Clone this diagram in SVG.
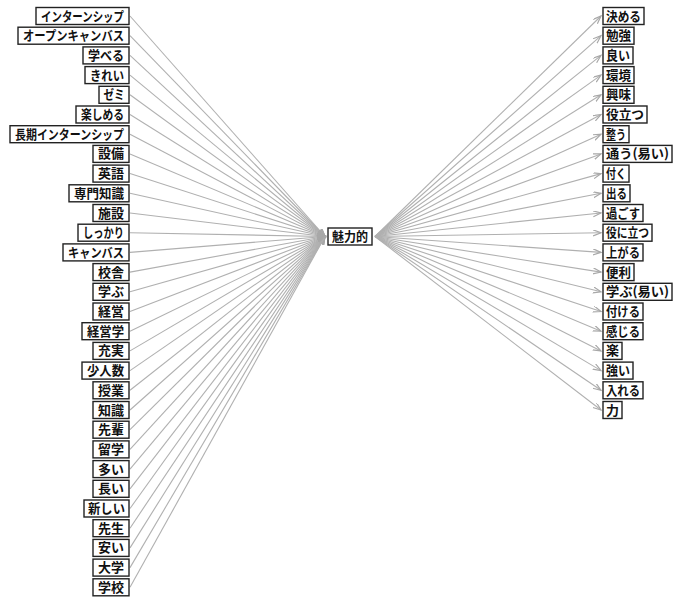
<svg xmlns="http://www.w3.org/2000/svg" width="677" height="598" viewBox="0 0 677 598">
<style>
.n rect{fill:#fff;stroke:#222;stroke-width:1.4}
.n text{font-family:"Noto Sans CJK JP","Noto Sans CJK SC",sans-serif;font-size:13px;font-weight:bold;fill:#111;text-anchor:middle}
.e line{stroke:#b0b0b0;stroke-width:1.1;fill:none}
.l line{marker-end:url(#a)}
.r line{marker-end:url(#a)}
</style>
<defs>
<marker id="a" markerUnits="userSpaceOnUse" markerWidth="10" markerHeight="8" refX="8" refY="3" orient="auto">
<path d="M0,0 L8,3 L0,6" fill="none" stroke="#a8a8a8" stroke-width="1.2"/>
</marker>
</defs>
<rect width="677" height="598" fill="#fff"/>
<g id="edges" class="e">
<g class="l">
<line x1="130" y1="16" x2="325" y2="236.5"/>
<line x1="130" y1="35.7" x2="325" y2="236.5"/>
<line x1="130" y1="55.4" x2="325" y2="236.5"/>
<line x1="130" y1="75.1" x2="325" y2="236.5"/>
<line x1="130" y1="94.8" x2="325" y2="236.5"/>
<line x1="130" y1="114.5" x2="325" y2="236.5"/>
<line x1="130" y1="134.2" x2="325" y2="236.5"/>
<line x1="130" y1="153.9" x2="325" y2="236.5"/>
<line x1="130" y1="173.6" x2="325" y2="236.5"/>
<line x1="130" y1="193.3" x2="325" y2="236.5"/>
<line x1="130" y1="213" x2="325" y2="236.5"/>
<line x1="130" y1="232.7" x2="325" y2="236.5"/>
<line x1="130" y1="252.4" x2="325" y2="236.5"/>
<line x1="130" y1="272.1" x2="325" y2="236.5"/>
<line x1="130" y1="291.8" x2="325" y2="236.5"/>
<line x1="130" y1="311.5" x2="325" y2="236.5"/>
<line x1="130" y1="331.2" x2="325" y2="236.5"/>
<line x1="130" y1="350.9" x2="325" y2="236.5"/>
<line x1="130" y1="370.6" x2="325" y2="236.5"/>
<line x1="130" y1="390.3" x2="325" y2="236.5"/>
<line x1="130" y1="410" x2="325" y2="236.5"/>
<line x1="130" y1="429.7" x2="325" y2="236.5"/>
<line x1="130" y1="449.4" x2="325" y2="236.5"/>
<line x1="130" y1="469.1" x2="325" y2="236.5"/>
<line x1="130" y1="488.8" x2="325" y2="236.5"/>
<line x1="130" y1="508.5" x2="325" y2="236.5"/>
<line x1="130" y1="528.2" x2="325" y2="236.5"/>
<line x1="130" y1="547.9" x2="325" y2="236.5"/>
<line x1="130" y1="567.6" x2="325" y2="236.5"/>
<line x1="130" y1="587.3" x2="325" y2="236.5"/>
</g>
<g class="r">
<line x1="375" y1="236.5" x2="601" y2="16"/>
<line x1="375" y1="236.5" x2="601" y2="35.7"/>
<line x1="375" y1="236.5" x2="601" y2="55.4"/>
<line x1="375" y1="236.5" x2="601" y2="75.1"/>
<line x1="375" y1="236.5" x2="601" y2="94.8"/>
<line x1="375" y1="236.5" x2="601" y2="114.5"/>
<line x1="375" y1="236.5" x2="601" y2="134.2"/>
<line x1="375" y1="236.5" x2="601" y2="153.9"/>
<line x1="375" y1="236.5" x2="601" y2="173.6"/>
<line x1="375" y1="236.5" x2="601" y2="193.3"/>
<line x1="375" y1="236.5" x2="601" y2="213"/>
<line x1="375" y1="236.5" x2="601" y2="232.7"/>
<line x1="375" y1="236.5" x2="601" y2="252.4"/>
<line x1="375" y1="236.5" x2="601" y2="272.1"/>
<line x1="375" y1="236.5" x2="601" y2="291.8"/>
<line x1="375" y1="236.5" x2="601" y2="311.5"/>
<line x1="375" y1="236.5" x2="601" y2="331.2"/>
<line x1="375" y1="236.5" x2="601" y2="350.9"/>
<line x1="375" y1="236.5" x2="601" y2="370.6"/>
<line x1="375" y1="236.5" x2="601" y2="390.3"/>
<line x1="375" y1="236.5" x2="601" y2="410"/>
</g>
</g>
<g id="center" class="n"><rect x="328" y="228" width="44" height="17"/><text x="350" y="241" textLength="36" lengthAdjust="spacingAndGlyphs">魅力的</text></g>
<g id="L0" class="n"><rect x="36" y="7.5" width="93" height="17"/><text x="82.5" y="20.5" textLength="83" lengthAdjust="spacingAndGlyphs">インターンシップ</text></g>
<g id="L1" class="n"><rect x="18" y="27.2" width="111" height="17"/><text x="73.5" y="40.2" textLength="101" lengthAdjust="spacingAndGlyphs">オープンキャンバス</text></g>
<g id="L2" class="n"><rect x="83" y="46.9" width="46" height="17"/><text x="106" y="59.9" textLength="36" lengthAdjust="spacingAndGlyphs">学べる</text></g>
<g id="L3" class="n"><rect x="85" y="66.6" width="44" height="17"/><text x="107" y="79.6" textLength="34" lengthAdjust="spacingAndGlyphs">きれい</text></g>
<g id="L4" class="n"><rect x="99" y="86.3" width="30" height="17"/><text x="114" y="99.3" textLength="21" lengthAdjust="spacingAndGlyphs">ゼミ</text></g>
<g id="L5" class="n"><rect x="76" y="106" width="53" height="17"/><text x="102.5" y="119" textLength="43" lengthAdjust="spacingAndGlyphs">楽しめる</text></g>
<g id="L6" class="n"><rect x="10" y="125.7" width="119" height="17"/><text x="69.5" y="138.7" textLength="109" lengthAdjust="spacingAndGlyphs">長期インターンシップ</text></g>
<g id="L7" class="n"><rect x="93" y="145.4" width="36" height="17"/><text x="111" y="158.4" textLength="26" lengthAdjust="spacingAndGlyphs">設備</text></g>
<g id="L8" class="n"><rect x="93" y="165.1" width="36" height="17"/><text x="111" y="178.1" textLength="26" lengthAdjust="spacingAndGlyphs">英語</text></g>
<g id="L9" class="n"><rect x="69" y="184.8" width="60" height="17"/><text x="99" y="197.8" textLength="50" lengthAdjust="spacingAndGlyphs">専門知識</text></g>
<g id="L10" class="n"><rect x="93" y="204.5" width="36" height="17"/><text x="111" y="217.5" textLength="26" lengthAdjust="spacingAndGlyphs">施設</text></g>
<g id="L11" class="n"><rect x="78" y="224.2" width="51" height="17"/><text x="103.5" y="237.2" textLength="41" lengthAdjust="spacingAndGlyphs">しっかり</text></g>
<g id="L12" class="n"><rect x="63" y="243.9" width="66" height="17"/><text x="96" y="256.9" textLength="56" lengthAdjust="spacingAndGlyphs">キャンバス</text></g>
<g id="L13" class="n"><rect x="93" y="263.6" width="36" height="17"/><text x="111" y="276.6" textLength="26" lengthAdjust="spacingAndGlyphs">校舎</text></g>
<g id="L14" class="n"><rect x="93" y="283.3" width="36" height="17"/><text x="111" y="296.3" textLength="26" lengthAdjust="spacingAndGlyphs">学ぶ</text></g>
<g id="L15" class="n"><rect x="93" y="303" width="36" height="17"/><text x="111" y="316" textLength="26" lengthAdjust="spacingAndGlyphs">経営</text></g>
<g id="L16" class="n"><rect x="82" y="322.7" width="47" height="17"/><text x="105.5" y="335.7" textLength="37" lengthAdjust="spacingAndGlyphs">経営学</text></g>
<g id="L17" class="n"><rect x="93" y="342.4" width="36" height="17"/><text x="111" y="355.4" textLength="26" lengthAdjust="spacingAndGlyphs">充実</text></g>
<g id="L18" class="n"><rect x="82" y="362.1" width="47" height="17"/><text x="105.5" y="375.1" textLength="37" lengthAdjust="spacingAndGlyphs">少人数</text></g>
<g id="L19" class="n"><rect x="93" y="381.8" width="36" height="17"/><text x="111" y="394.8" textLength="26" lengthAdjust="spacingAndGlyphs">授業</text></g>
<g id="L20" class="n"><rect x="93" y="401.5" width="36" height="17"/><text x="111" y="414.5" textLength="26" lengthAdjust="spacingAndGlyphs">知識</text></g>
<g id="L21" class="n"><rect x="93" y="421.2" width="36" height="17"/><text x="111" y="434.2" textLength="26" lengthAdjust="spacingAndGlyphs">先輩</text></g>
<g id="L22" class="n"><rect x="93" y="440.9" width="36" height="17"/><text x="111" y="453.9" textLength="26" lengthAdjust="spacingAndGlyphs">留学</text></g>
<g id="L23" class="n"><rect x="93" y="460.6" width="36" height="17"/><text x="111" y="473.6" textLength="26" lengthAdjust="spacingAndGlyphs">多い</text></g>
<g id="L24" class="n"><rect x="93" y="480.3" width="36" height="17"/><text x="111" y="493.3" textLength="26" lengthAdjust="spacingAndGlyphs">長い</text></g>
<g id="L25" class="n"><rect x="84" y="500" width="45" height="17"/><text x="106.5" y="513" textLength="37" lengthAdjust="spacingAndGlyphs">新しい</text></g>
<g id="L26" class="n"><rect x="93" y="519.7" width="36" height="17"/><text x="111" y="532.7" textLength="26" lengthAdjust="spacingAndGlyphs">先生</text></g>
<g id="L27" class="n"><rect x="93" y="539.4" width="36" height="17"/><text x="111" y="552.4" textLength="26" lengthAdjust="spacingAndGlyphs">安い</text></g>
<g id="L28" class="n"><rect x="93" y="559.1" width="36" height="17"/><text x="111" y="572.1" textLength="26" lengthAdjust="spacingAndGlyphs">大学</text></g>
<g id="L29" class="n"><rect x="93" y="578.8" width="36" height="17"/><text x="111" y="591.8" textLength="26" lengthAdjust="spacingAndGlyphs">学校</text></g>
<g id="R0" class="n"><rect x="603" y="7.5" width="41" height="17"/><text x="623.5" y="20.5" textLength="35" lengthAdjust="spacingAndGlyphs">決める</text></g>
<g id="R1" class="n"><rect x="603" y="27.2" width="31" height="17"/><text x="618.5" y="40.2" textLength="25" lengthAdjust="spacingAndGlyphs">勉強</text></g>
<g id="R2" class="n"><rect x="603" y="46.9" width="30" height="17"/><text x="618" y="59.9" textLength="24" lengthAdjust="spacingAndGlyphs">良い</text></g>
<g id="R3" class="n"><rect x="603" y="66.6" width="31" height="17"/><text x="618.5" y="79.6" textLength="25" lengthAdjust="spacingAndGlyphs">環境</text></g>
<g id="R4" class="n"><rect x="603" y="86.3" width="31" height="17"/><text x="618.5" y="99.3" textLength="25" lengthAdjust="spacingAndGlyphs">興味</text></g>
<g id="R5" class="n"><rect x="603" y="106" width="44" height="17"/><text x="625" y="119" textLength="38" lengthAdjust="spacingAndGlyphs">役立つ</text></g>
<g id="R6" class="n"><rect x="603" y="125.7" width="26" height="17"/><text x="616" y="138.7" textLength="20" lengthAdjust="spacingAndGlyphs">整う</text></g>
<g id="R7" class="n"><rect x="603" y="145.4" width="69" height="17"/><text x="637.5" y="158.4" textLength="63" lengthAdjust="spacingAndGlyphs">通う(易い)</text></g>
<g id="R8" class="n"><rect x="603" y="165.1" width="26" height="17"/><text x="616" y="178.1" textLength="20" lengthAdjust="spacingAndGlyphs">付く</text></g>
<g id="R9" class="n"><rect x="603" y="184.8" width="27" height="17"/><text x="616.5" y="197.8" textLength="21" lengthAdjust="spacingAndGlyphs">出る</text></g>
<g id="R10" class="n"><rect x="603" y="204.5" width="40" height="17"/><text x="623" y="217.5" textLength="34" lengthAdjust="spacingAndGlyphs">過ごす</text></g>
<g id="R11" class="n"><rect x="603" y="224.2" width="49" height="17"/><text x="627.5" y="237.2" textLength="43" lengthAdjust="spacingAndGlyphs">役に立つ</text></g>
<g id="R12" class="n"><rect x="603" y="243.9" width="40" height="17"/><text x="623" y="256.9" textLength="34" lengthAdjust="spacingAndGlyphs">上がる</text></g>
<g id="R13" class="n"><rect x="603" y="263.6" width="31" height="17"/><text x="618.5" y="276.6" textLength="25" lengthAdjust="spacingAndGlyphs">便利</text></g>
<g id="R14" class="n"><rect x="603" y="283.3" width="69" height="17"/><text x="637.5" y="296.3" textLength="63" lengthAdjust="spacingAndGlyphs">学ぶ(易い)</text></g>
<g id="R15" class="n"><rect x="603" y="303" width="40" height="17"/><text x="623" y="316" textLength="34" lengthAdjust="spacingAndGlyphs">付ける</text></g>
<g id="R16" class="n"><rect x="603" y="322.7" width="40" height="17"/><text x="623" y="335.7" textLength="34" lengthAdjust="spacingAndGlyphs">感じる</text></g>
<g id="R17" class="n"><rect x="603" y="342.4" width="19" height="17"/><text x="612.5" y="355.4" textLength="13" lengthAdjust="spacingAndGlyphs">楽</text></g>
<g id="R18" class="n"><rect x="603" y="362.1" width="30" height="17"/><text x="618" y="375.1" textLength="24" lengthAdjust="spacingAndGlyphs">強い</text></g>
<g id="R19" class="n"><rect x="603" y="381.8" width="40" height="17"/><text x="623" y="394.8" textLength="34" lengthAdjust="spacingAndGlyphs">入れる</text></g>
<g id="R20" class="n"><rect x="603" y="401.5" width="19" height="17"/><text x="612.5" y="414.5" textLength="13" lengthAdjust="spacingAndGlyphs">力</text></g>
</svg>
